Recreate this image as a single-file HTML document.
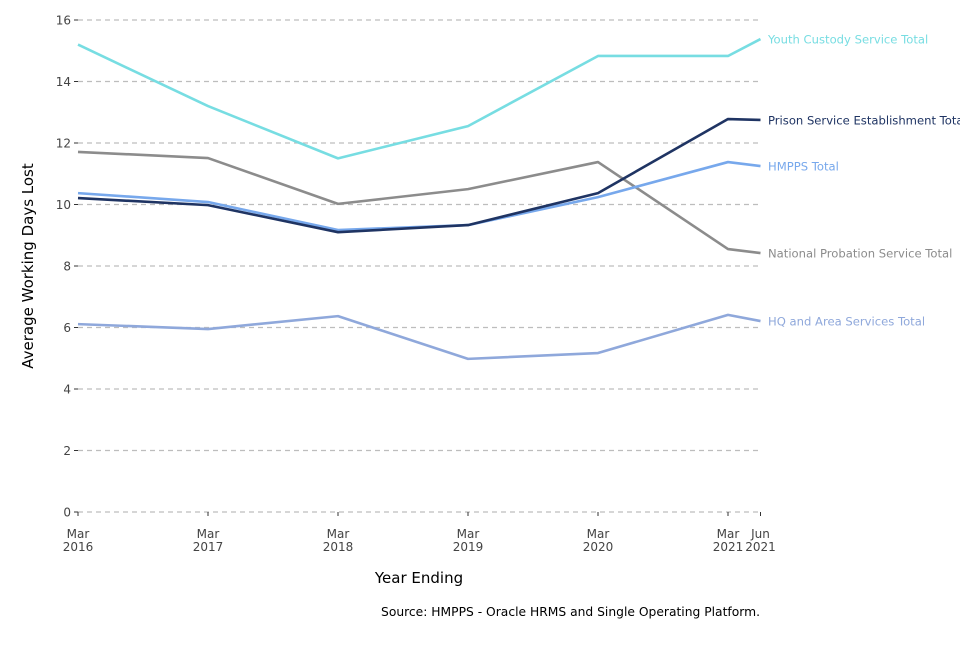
<!DOCTYPE html>
<html><head><meta charset="utf-8"><style>
body{margin:0;background:#fff}
svg text{font-family:"DejaVu Sans","Liberation Sans",sans-serif}
</style></head><body>
<svg id="chart" width="960" height="640" xmlns="http://www.w3.org/2000/svg"></svg>
<script>
const categories=[0,12,24,36,48,60,63];
const tickLabels=[["Mar","2016"],["Mar","2017"],["Mar","2018"],["Mar","2019"],["Mar","2020"],["Mar","2021"],["Jun","2021"]];
const yTicks=[0,2,4,6,8,10,12,14,16];
const youthValues=[15.2,13.2,11.5,12.55,14.83,14.83,15.38];
const prisonValues=[10.21,9.98,9.1,9.33,10.37,12.78,12.75];
const hmppsValues=[10.37,10.08,9.17,9.33,10.24,11.38,11.25];
const npsValues=[11.71,11.51,10.02,10.5,11.38,8.55,8.42];
const hqValues=[6.11,5.95,6.37,4.98,5.17,6.41,6.21];
const seriesNames=["Youth Custody Service Total","Prison Service Establishment Total","HMPPS Total","National Probation Service Total","HQ and Area Services Total"];

const svg=document.getElementById('chart');
const NS='http://www.w3.org/2000/svg';
const x=m=>78+m*130/12;
const y=v=>512-v*30.75;
function mk(t,a,parent){const e=document.createElementNS(NS,t);for(const k in a)e.setAttribute(k,a[k]);(parent||svg).appendChild(e);return e;}

const grid=mk('g',{});


yTicks.forEach(v=>{
  const l=mk('line',{x1:78,x2:760,y1:y(v),y2:y(v),stroke:'#bdbdbd','stroke-width':1.2,'stroke-dasharray':'5,4'},grid);
  
  
  mk('line',{x1:74,x2:78,y1:y(v),y2:y(v),stroke:'#333','stroke-width':1},grid);
  const t=mk('text',{x:71,y:y(v)+4.5,'text-anchor':'end','font-size':12,fill:'#444'},grid);
  t.textContent=v;
  
  
});
categories.forEach((m,i)=>{
  mk('line',{x1:x(m),x2:x(m),y1:512,y2:516,stroke:'#333','stroke-width':1},grid);
  const t=mk('text',{x:x(m),y:538,'text-anchor':'middle','font-size':12,fill:'#444'},grid);
  
  
  const a=mk('tspan',{x:x(m),dy:0},t);a.textContent=tickLabels[i][0];
  const b=mk('tspan',{x:x(m),dy:13},t);b.textContent=tickLabels[i][1];
});

const series=[[youthValues,'#77dde2'],[prisonValues,'#1f3463'],[hmppsValues,'#77a8ec'],[npsValues,'#8c8c8c'],[hqValues,'#8fa8db']];
const slugs=['youth-custody','prison-service','hmpps','national-probation','hq-area-services'];
const order=[3,0,2,1,4];
order.forEach(i=>{
  const [vals,col]=series[i];
  const p=mk('polyline',{points:vals.map((v,j)=>x(categories[j])+','+y(v)).join(' '),fill:'none',stroke:col,'stroke-width':2.6,'stroke-linejoin':'round'});
  
  
  const t=mk('text',{x:768,y:y(vals[vals.length-1])+4.5,'font-size':11.6,fill:col});
  t.textContent=seriesNames[i];
  
  
});

const yt=mk('text',{x:0,y:0,transform:'translate(33,266) rotate(-90)','text-anchor':'middle','font-size':15,fill:'#000'});
yt.textContent='Average Working Days Lost';


const xt=mk('text',{x:419,y:583,'text-anchor':'middle','font-size':15,fill:'#000'});
xt.textContent='Year Ending';


const src=mk('text',{x:760,y:616,'text-anchor':'end','font-size':12.3,fill:'#000'});
src.textContent='Source: HMPPS - Oracle HRMS and Single Operating Platform.';


</script>
</body></html>
